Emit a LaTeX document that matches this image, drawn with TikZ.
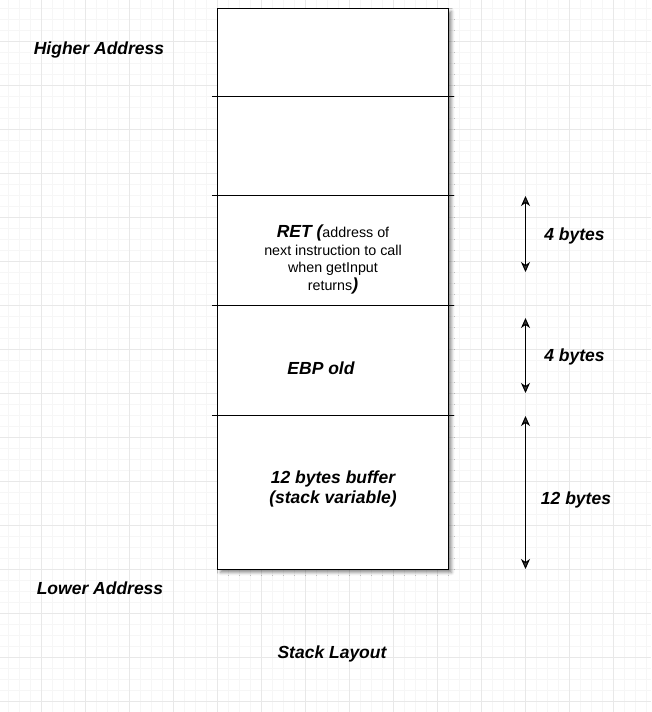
\documentclass[tikz,border=0pt]{standalone}
\usepackage{fontspec}
\setmainfont{Liberation Sans}
\usetikzlibrary{arrows.meta,shadows.blur}

\definecolor{gridminor}{HTML}{F6F6F6}
\definecolor{gridmajor}{HTML}{E8E8E8}

\tikzset{
  labeltext/.style={font=\fontsize{17.5}{20.5}\selectfont\bfseries\itshape},
  celltext/.style={font=\fontsize{14.3}{17.5}\selectfont, align=center},
  sizearrow/.style={{Stealth[length=10pt,width=9pt,inset=3pt]}-{Stealth[length=10pt,width=9pt,inset=3pt]}, line width=1pt},
  divider/.style={line width=0.8pt},
}

\begin{document}
\begin{tikzpicture}[x=1pt,y=-1pt]
\useasboundingbox (0,0) rectangle (651,712);

% Raster
	\foreach \x in {8.3, 19.3, ..., 651}
		\draw[gridminor] (\x,0) -- (\x,712);
	\foreach \y in {8.3, 19.3, ..., 712}
		\draw[gridminor] (0,\y) -- (651,\y);
	\foreach \x in {41.3, 85.3, ..., 651}
		\draw[gridmajor] (\x,0) -- (\x,712);
	\foreach \y in {41.3, 85.3, ..., 712}
		\draw[gridmajor] (0,\y) -- (651,\y);

% Stapel
\draw[fill=white, line width=0.8pt, blur shadow={shadow xshift=3pt, shadow yshift=-3pt, shadow blur radius=3pt, shadow opacity=45}]
	(217.5,8.5) rectangle (448.5,569.5);
	\foreach \y in {96.5, 195.5, 305.5, 415.5}
		\draw[divider] (212,\y) -- (454,\y);

\node[celltext] (ret) at (333,259.5)
	{{\fontsize{17.5}{20.5}\selectfont\bfseries\itshape RET (}address of\\
	 next instruction to call\\ when getInput\\ returns{\fontsize{17.5}{20.5}\selectfont\bfseries\itshape )}};
\node[labeltext] (ebp) at (321,368) {EBP old};
\node[labeltext, align=center] (buffer) at (333,489) {12 bytes buffer\\(stack variable)};

% Beschriftung
\node[labeltext] (higher) at (99,49.5) {Higher Address};
\node[labeltext] (lower) at (100,588) {Lower Address};
\node[labeltext] (title) at (332,654) {Stack Layout};

% Groessen
\coordinate (ret top) at (525.5,196);
\coordinate (ret bot) at (525.5,272);
\coordinate (ebp top) at (525.5,318);
\coordinate (ebp bot) at (525.5,393);
\coordinate (buf top) at (525.5,416);
\coordinate (buf bot) at (525.5,569);
\draw[sizearrow] (ret top) -- (ret bot);
\draw[sizearrow] (ebp top) -- (ebp bot);
\draw[sizearrow] (buf top) -- (buf bot);

\node[labeltext] (ret size) at (574.5,236) {4 bytes};
\node[labeltext] (ebp size) at (574.5,357) {4 bytes};
\node[labeltext] (buf size) at (576,500) {12 bytes};
\end{tikzpicture}
\end{document}
